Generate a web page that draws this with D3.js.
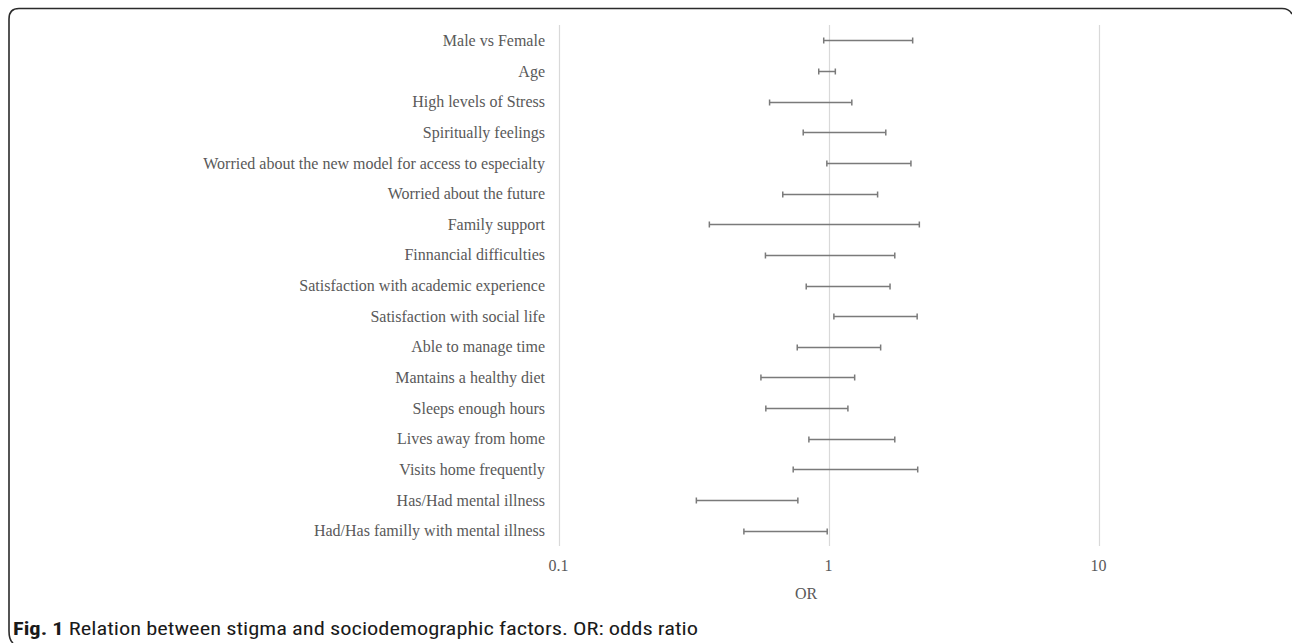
<!DOCTYPE html>
<html>
<head>
<meta charset="utf-8">
<script src="https://cdn.jsdelivr.net/npm/d3@7"></script>
<style>
  html, body { margin: 0; padding: 0; background: #fff; }
  svg { display: block; }
</style>
</head>
<body>
<svg id="chart" width="1292" height="643"></svg>
<script>
const categories = [
  "Male vs Female",
  "Age",
  "High levels of Stress",
  "Spiritually feelings",
  "Worried about the new model for access to especialty",
  "Worried about the future",
  "Family support",
  "Finnancial difficulties",
  "Satisfaction with academic experience",
  "Satisfaction with social life",
  "Able to manage time",
  "Mantains a healthy diet",
  "Sleeps enough hours",
  "Lives away from home",
  "Visits home frequently",
  "Has/Had mental illness",
  "Had/Has familly with mental illness"
];
const lowerCI = [0.96, 0.92, 0.605, 0.806, 0.986, 0.677, 0.362, 0.584, 0.827, 1.047, 0.766, 0.562, 0.586, 0.846, 0.74, 0.324, 0.486];
const upperCI = [2.05, 1.06, 1.22, 1.63, 2.02, 1.52, 2.17, 1.76, 1.69, 2.13, 1.56, 1.25, 1.18, 1.76, 2.14, 0.77, 0.989];
const tickValues = [0.1, 1, 10];
const tickLabels = ["0.1", "1", "10"];
const axisTitle = "OR";
const captionBold = "Fig. 1";
const captionText = " Relation between stigma and sociodemographic factors. OR: odds ratio";

const svg = d3.select("#chart");

// frame
svg.append("path")
  .attr("d", "M13,643 Q9,640 9,631 L9,19 Q9,8.5 19,8.5 L1282,8.5 Q1289,8.5 1292,14")
  .attr("fill", "none")
  .attr("stroke", "#2b2b2b")
  .attr("stroke-width", 1.6);

const x = d3.scaleLog().domain([0.1, 10]).range([558.5, 1098.5]);
const y = d3.scaleBand().domain(categories).range([25, 546]);

const serif = "'Liberation Serif','Times New Roman',serif";

// gridlines
svg.append("g").selectAll("line").data(tickValues).join("line")
  .attr("x1", d => Math.round(x(d)) + 0.5)
  .attr("x2", d => Math.round(x(d)) + 0.5)
  .attr("y1", y.range()[0])
  .attr("y2", y.range()[1])
  .attr("stroke", "#d9d9d9")
  .attr("stroke-width", 1.2);

// tick labels
svg.append("g").selectAll("text").data(tickValues).join("text")
  .attr("x", d => x(d))
  .attr("y", 571)
  .attr("text-anchor", "middle")
  .attr("font-family", serif)
  .attr("font-size", 16)
  .attr("fill", "#595959")
  .text((d, i) => tickLabels[i]);

// axis title
svg.append("text")
  .attr("x", 806)
  .attr("y", 599)
  .attr("text-anchor", "middle")
  .attr("font-family", serif)
  .attr("font-size", 16)
  .attr("fill", "#595959")
  .text(axisTitle);

// category labels
svg.append("g").selectAll("text").data(categories).join("text")
  .attr("x", 545)
  .attr("y", d => y(d) + y.bandwidth() / 2)
  .attr("dy", "0.35em")
  .attr("text-anchor", "end")
  .attr("font-family", serif)
  .attr("font-size", 16)
  .attr("fill", "#595959")
  .text(d => d);

// error bars
const rows = categories.map((c, i) => ({ c, lo: lowerCI[i], hi: upperCI[i] }));
const g = svg.append("g").attr("stroke", "#7a7a7a").attr("stroke-width", 1.5);
const capH = 3;
rows.forEach(r => {
  const cy = Math.round(y(r.c) + y.bandwidth() / 2) + 0.5;
  g.append("line").attr("x1", x(r.lo)).attr("x2", x(r.hi)).attr("y1", cy).attr("y2", cy);
  g.append("line").attr("x1", x(r.lo)).attr("x2", x(r.lo)).attr("y1", cy - capH).attr("y2", cy + capH);
  g.append("line").attr("x1", x(r.hi)).attr("x2", x(r.hi)).attr("y1", cy - capH).attr("y2", cy + capH);
});

// caption
const cap = svg.append("text")
  .attr("x", 13)
  .attr("y", 635)
  .attr("font-family", "'Liberation Sans Narrow','Arial Narrow','Roboto Condensed',sans-serif")
  .attr("font-size", 18)
  .attr("fill", "#1a1a1a");
cap.append("tspan").attr("font-weight", "bold").text(captionBold);
cap.append("tspan").text(captionText);
const w = cap.node().getComputedTextLength();
if (Math.abs(w - 685) > 10) {
  cap.attr("textLength", 685).attr("lengthAdjust", "spacingAndGlyphs");
}
</script>
</body>
</html>
